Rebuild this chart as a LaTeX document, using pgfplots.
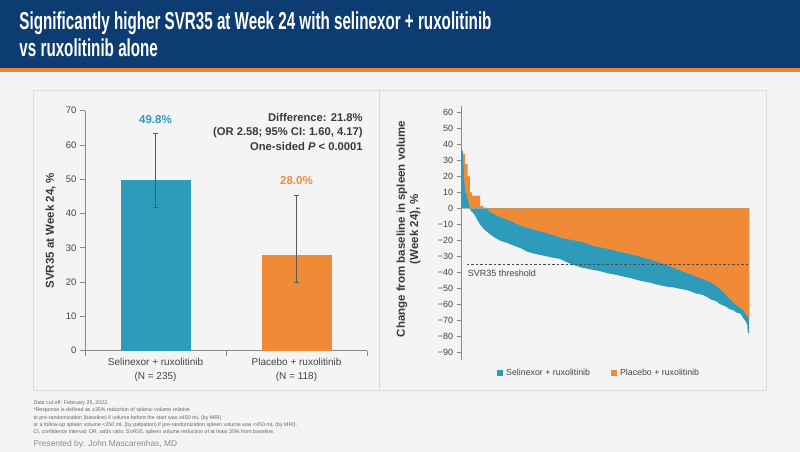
\documentclass[border=0pt]{standalone}
\usepackage{fontspec}
\setmainfont{Liberation Sans}
\newfontfamily\titlefont[FakeStretch=0.62]{Liberation Sans}
\usepackage{pgfplots}
\usepackage{pgfplotstable}
\pgfplotsset{compat=1.18}

\definecolor{hdrblue}{HTML}{0C3C72}
\definecolor{hdrorange}{HTML}{E8853A}
\definecolor{bg}{HTML}{F4F4F4}
\definecolor{panelline}{HTML}{DCDCDC}
\definecolor{selblue}{HTML}{2F9BBA}
\definecolor{plcorange}{HTML}{F08A36}
\definecolor{axisgray}{HTML}{8A8A8A}
\definecolor{txtgray}{HTML}{3A3A3A}
\definecolor{lblgray}{HTML}{444444}
\definecolor{notegray}{HTML}{666666}

% Waterfall: percentage of patients (sorted) vs change from baseline
\pgfplotstableread{
pos value
0    37
0.6  36
1.0  20
1.4  11
2.0  8
2.6  4
3.0  1
3.4  -1.5
4.3  -3
5.0  -5
5.8  -7.5
6.6  -10
7.3  -11.5
8.0  -13
9.0  -14.5
10.0 -16
11.0 -17.3
12.0 -18.5
13.5 -20
14.7 -20.8
16.0 -21.5
17.0 -22.3
18.0 -23
19.5 -24
21.0 -25
22.0 -26
23.0 -27
25.0 -28
27.4 -29
30.0 -30
32.0 -30.8
34.4 -31.5
35.2 -32.3
36.0 -33
37.0 -33.8
38.0 -34.5
39.0 -35.2
40.0 -35.8
42.0 -37
44.7 -37.9
46.0 -38.5
48.0 -39
49.5 -39.8
51.0 -40.5
52.5 -41
54.0 -41.5
55.8 -42.3
57.5 -43
60.0 -44
61.5 -44.8
63.0 -45.5
64.5 -46
66.0 -46.5
67.5 -47.3
69.0 -48
70.5 -48.5
72.0 -49
74.0 -49.4
75.5 -50
77.0 -50.5
78.2 -51
79.4 -51.5
80.7 -52.5
82.0 -53.3
83.0 -53.6
84.0 -54
85.7 -55.6
87.0 -57
88.7 -58
89.9 -59.8
91.0 -60.5
92.2 -61.5
93.3 -63
94.5 -63.5
95.6 -65
96.9 -65.6
97.5 -67
98.0 -68.5
98.6 -70
99.0 -71
99.4 -73
99.6 -78
100  -78
}\selinexor

\pgfplotstableread{
pos value
0    35
0.7  35
0.7  34
1.4  34
1.4  27.7
2.3  27.7
2.3  20
3.1  20
3.1  10
3.9  10
3.9  8
6.6  8
6.6  1.7
7.8  1.7
7.8  0.5
9.0  0.5
9.0  -0.5
10.0 -2
11.0 -3
12.0 -4
13.0 -4.8
14.0 -5.5
15.0 -6.3
16.0 -7
17.0 -7.8
18.0 -8.5
19.0 -9.3
20.0 -10
21.0 -10.8
22.0 -11.5
23.0 -12
24.0 -12.5
25.5 -13.3
27.0 -14
28.5 -14.8
30.0 -15.5
31.5 -16.3
33.0 -17
35.0 -18.5
36.5 -19
38.0 -19.5
39.5 -20
41.0 -20.5
43.0 -21.5
44.5 -22.4
46.0 -23.3
47.5 -24
49.0 -24.5
50.5 -25
52.0 -25.5
53.5 -26.3
55.0 -27
57.5 -28
60.0 -29
61.5 -29.8
63.0 -30.5
64.5 -31.3
66.0 -32
67.5 -33
69.0 -33.7
71.0 -35
73.0 -36.5
75.0 -38
76.5 -39
78.0 -40
79.5 -41
80.7 -42
82.0 -42.8
83.0 -43.5
84.5 -44.5
86.5 -46
88.0 -47.5
89.0 -49
90.0 -50.4
91.0 -52
92.2 -54.6
93.3 -56.5
94.5 -58.7
95.7 -60.5
96.9 -61.9
98.0 -63.5
98.6 -65
99.3 -67
100  -68
}\placebo

\begin{document}
\begin{tikzpicture}
\useasboundingbox (0pt,0pt) rectangle (800pt,452pt);
% slide background, header band and accent stripe
\fill[bg] (0pt,0pt) rectangle (800pt,452pt);
\fill[hdrblue] (0pt,452pt) rectangle (800pt,383.5pt);
\fill[hdrorange] (0pt,383.5pt) rectangle (800pt,379.5pt);
\node[anchor=base west, inner sep=0pt, text=white] at (19.3pt,422.7pt)
  {\titlefont\bfseries\fontsize{24.5}{27}\selectfont Significantly higher SVR35 at Week 24 with selinexor + ruxolitinib};
\node[anchor=base west, inner sep=0pt, text=white] at (19.3pt,395.3pt)
  {\titlefont\bfseries\fontsize{24.5}{27}\selectfont vs ruxolitinib alone};

% panel frames
\draw[panelline, line width=0.8pt] (33pt,61.3pt) rectangle (766pt,362pt);
\draw[panelline, line width=0.8pt] (379pt,61.3pt) -- (379pt,362pt);

% footnotes
\node[anchor=north west, inner sep=0pt, align=left, text=notegray,
  font=\fontsize{5.3}{7.35}\selectfont] at (33.3pt,51.5pt)
  {Data cut off: February 25, 2022.\\
   *Response is defined as ≥35\% reduction of splenic volume relative\\
   to pre-randomization (baseline) if volume before the start was ≥450 mL (by MRI)\\
   or a follow-up spleen volume <250 mL (by palpation) if pre-randomization spleen volume was <450 mL (by MRI).\\
   CI, confidence interval; OR, odds ratio; SVR35, spleen volume reduction of at least 35\% from baseline.};
\node[anchor=base west, inner sep=0pt, text=black!45] at (33.3pt,5pt)
  {\fontsize{8.4}{10}\selectfont Presented by: John Mascarenhas, MD};

% ---------- SVR35 bar chart ----------
\begin{axis}[
  at={(85pt,101.3pt)}, anchor=south west,
  scale only axis, width=282pt, height=240pt,
  xmin=-0.5, xmax=1.5, ymin=0, ymax=70,
  axis x line*=bottom, axis y line*=left,
  axis line style={axisgray, line width=0.8pt},
  tick style={axisgray, line width=0.8pt},
  tick align=outside, major tick length=5pt,
  xtick={-0.5,0.5,1.5}, xticklabels={},
  extra x ticks={0,1},
  extra x tick labels={{Selinexor + ruxolitinib\\(N = 235)},{Placebo + ruxolitinib\\(N = 118)}},
  extra x tick style={major tick length=0pt,
    tick label style={align=center, text=lblgray, yshift=-4.5pt, font=\fontsize{10}{13.3}\selectfont}},
  ytick={0,10,...,70},
  yticklabel style={text=lblgray, font=\fontsize{9.5}{11}\selectfont},
  /pgf/number format/assume math mode=true,
  ylabel={SVR35 at Week 24, \%},
  every axis y label/.style={at={(axis description cs:-0.122,0.5)}, rotate=90, anchor=center,
    font=\bfseries\fontsize{11.5}{13}\selectfont, text=txtgray},
  ybar, bar width=70pt,
  clip=false,
]
\addplot[fill=selblue, draw=none, bar shift=0pt,
  error bars/.cd, y dir=both, y explicit,
  error bar style={black!65, line width=0.7pt},
  error mark options={rotate=90, black!65, mark size=2.5pt, line width=0.7pt}]
  coordinates {(0,49.8) += (0,13.6) -= (0,8.0)};
\addplot[fill=plcorange, draw=none, bar shift=0pt,
  error bars/.cd, y dir=both, y explicit,
  error bar style={black!65, line width=0.7pt},
  error mark options={rotate=90, black!65, mark size=2.5pt, line width=0.7pt}]
  coordinates {(1,28.0) += (0,17.3) -= (0,8.2)};
\node[text=selblue, font=\bfseries\fontsize{11.5}{13}\selectfont] at (axis cs:0,67.5) {49.8\%};
\node[text=plcorange, font=\bfseries\fontsize{11.5}{13}\selectfont] at (axis cs:1,49.6) {28.0\%};
\node[anchor=north east, align=right, text=txtgray, inner sep=0pt,
  font=\bfseries\fontsize{11.2}{14.2}\selectfont] at (axis cs:1.47,69.2)
  {Difference: 21.8\%\\(OR 2.58; 95\% CI: 1.60, 4.17)\\One-sided \textit{P} < 0.0001};
\end{axis}

% ---------- Waterfall of spleen volume change ----------
\begin{axis}[
  at={(461pt,91.5pt)}, anchor=south west,
  scale only axis, width=288pt, height=254.4pt,
  xmin=0, xmax=100, ymin=-95, ymax=64,
  axis x line=none, axis y line*=left,
  axis line style={axisgray, line width=0.8pt},
  tick style={axisgray, line width=0.8pt},
  tick align=outside, major tick length=4.3pt,
  ytick={-90,-80,-70,-60,-50,-40,-30,-20,-10,0,10,20,30,40,50,60},
  yticklabels={−90,−80,−70,−60,−50,−40,−30,−20,−10,0,10,20,30,40,50,60},
  yticklabel style={text=lblgray, font=\fontsize{9}{11}\selectfont},
  ylabel={Change from baseline in spleen volume\\(Week 24), \%},
  every axis y label/.style={at={(axis description cs:-0.182,0.517)}, rotate=90, anchor=center,
    font=\bfseries\fontsize{11.5}{13.3}\selectfont, text=txtgray, align=center},
  legend columns=2,
  legend image code/.code={\fill[#1] (0pt,-3pt) rectangle (6pt,3pt);},
  legend style={draw=none, fill=none, at={(axis description cs:0.125,-0.048)}, anchor=west,
    inner sep=0pt, font=\fontsize{8.8}{10}\selectfont, text=lblgray,
    nodes={inner xsep=3pt, inner ysep=0pt},
    /tikz/every even column/.append style={column sep=18pt}},
  clip=false,
]
\addplot[fill=plcorange, draw=none, forget plot]
  table[x=pos, y=value] {\placebo} \closedcycle;
\addplot[fill=selblue, draw=none, forget plot]
  table[x=pos, y=value] {\selinexor} \closedcycle;
\addplot[fill=plcorange, draw=none, forget plot,
  y filter/.expression={min(y,0)}]
  table[x=pos, y=value] {\placebo} \closedcycle;
\addplot[black!70, line width=0.6pt, dash pattern=on 2.5pt off 2pt, forget plot]
  coordinates {(2,-35) (100,-35)};
\node[anchor=west, inner sep=0pt, text=lblgray, font=\fontsize{9}{11}\selectfont] at (axis cs:2.3,-40.8) {SVR35 threshold};
\addlegendimage{fill=selblue, draw=none}
\addlegendentry{Selinexor + ruxolitinib}
\addlegendimage{fill=plcorange, draw=none}
\addlegendentry{Placebo + ruxolitinib}
\end{axis}
\end{tikzpicture}
\end{document}
